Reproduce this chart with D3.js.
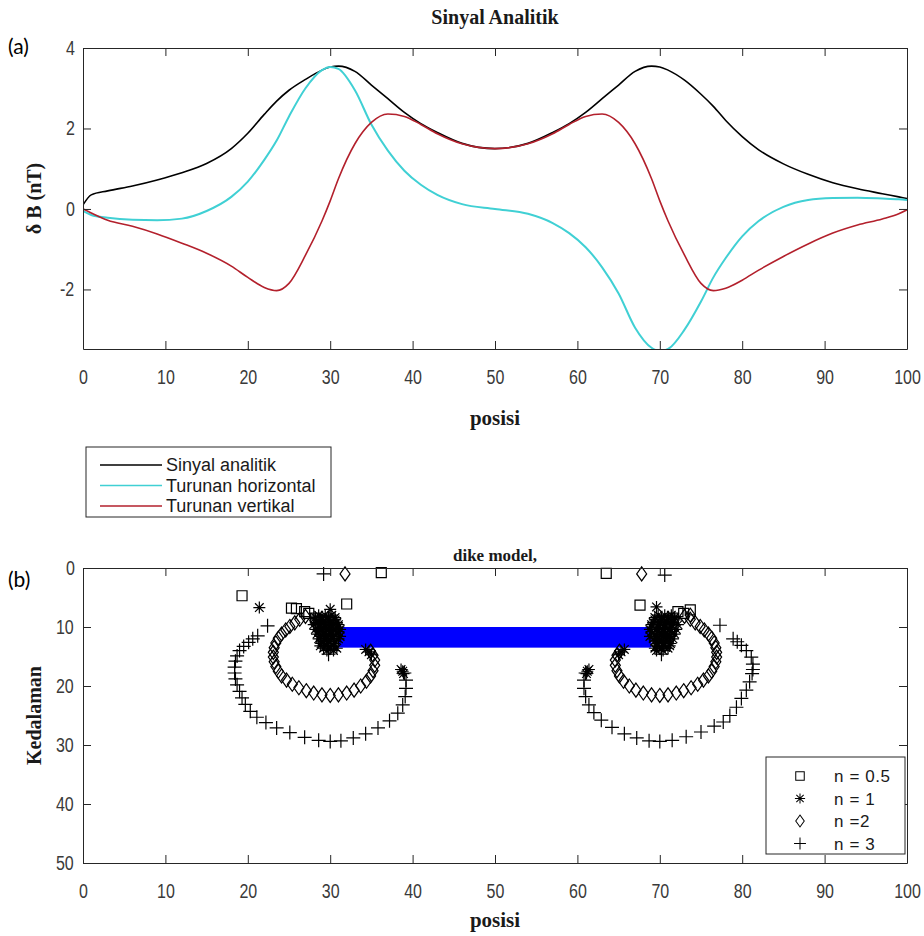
<!DOCTYPE html>
<html>
<head>
<meta charset="utf-8">
<script src="https://cdn.jsdelivr.net/npm/d3@7"></script>
<style>
  body { margin: 0; background: #fff; }
  .axis path, .axis line { stroke: #262626; }
  .axis text { fill: #3a3a3a; font-family: "Liberation Sans", Arial, sans-serif; font-size: 20px;
    transform-box: fill-box; transform-origin: center; transform: scaleX(0.8); }
  .ttl { font-family: "Liberation Serif", "Times New Roman", serif; font-weight: bold; fill: #1a1a1a; }
  .lg { font-family: "Liberation Sans", Arial, sans-serif; fill: #1a1a1a; }
  .panel { font-family: Lato, "Open Sans", sans-serif; font-size: 21px; fill: #000; }
</style>
</head>
<body>
<div id="container"></div>
<script>
/* CONSTANTS AND GLOBALS */
const width = 924,
  height = 936,
  left = 83,
  right = 907,
  topA = 48,
  bottomA = 349,
  topB = 568,
  bottomB = 863,
  tick = 8;

/* DATA - panel (a) */
const posisi = [0, 1, 3, 6, 9, 12, 15, 18, 20, 22, 23.5, 25, 27, 29, 30, 31, 33, 35, 37, 39, 41, 43, 46, 50,
  54, 57, 59, 61, 63, 65, 67, 69, 70, 71, 73, 75, 76.5, 78, 80, 82, 85, 88, 91, 94, 97, 99, 100];

const sinyalAnalitik = [0.1, 0.35, 0.45, 0.57, 0.72, 0.9, 1.13, 1.5, 1.88, 2.35, 2.68, 2.95, 3.22, 3.45, 3.53, 3.55, 3.42, 3.08, 2.74, 2.4, 2.12, 1.9, 1.63, 1.5,
  1.63, 1.9, 2.12, 2.4, 2.74, 3.08, 3.42, 3.55, 3.53, 3.45, 3.2, 2.85, 2.55, 2.2, 1.8, 1.47, 1.12, 0.86, 0.65, 0.5, 0.38, 0.3, 0.26];

const turunanHorizontal = [-0.05, -0.15, -0.22, -0.27, -0.28, -0.24, -0.05, 0.3, 0.68, 1.22, 1.7, 2.3, 3.0, 3.45, 3.53, 3.48, 2.95, 2.1, 1.45, 0.95, 0.6, 0.35, 0.12, 0.0,
  -0.12, -0.35, -0.6, -0.95, -1.45, -2.1, -2.95, -3.45, -3.53, -3.48, -3.0, -2.3, -1.7, -1.22, -0.68, -0.3, 0.05, 0.22, 0.27, 0.28, 0.26, 0.24, 0.22];

const turunanVertikal = [0.0, -0.1, -0.28, -0.43, -0.62, -0.85, -1.1, -1.42, -1.7, -1.95, -2.03, -1.85, -1.15, -0.3, 0.2, 0.75, 1.62, 2.15, 2.36, 2.3, 2.1, 1.87, 1.62, 1.5,
  1.62, 1.87, 2.1, 2.3, 2.36, 2.15, 1.62, 0.75, 0.2, -0.3, -1.15, -1.85, -2.03, -1.97, -1.77, -1.52, -1.18, -0.87, -0.6, -0.4, -0.25, -0.12, -0.02];

const legendA = ["Sinyal analitik", "Turunan horizontal", "Turunan vertikal"];
const colorsA = ["#000000", "#40d0d4", "#b3202c"];

const xTicks = [0, 10, 20, 30, 40, 50, 60, 70, 80, 90, 100];
const yTicksA = [-2, 0, 2, 4];
const yTicksB = [0, 10, 20, 30, 40, 50];

/* DATA - panel (b) : [posisi, kedalaman] */
const dikeX = [31, 69];
const dikeDepth = [10, 13.5];

const n05 = [[19.3, 4.7], [25.3, 6.8], [25.9, 6.9], [26.9, 7.4], [27.4, 7.7], [32.0, 6.1], [36.2, 0.8], [28.2, 8.5], [28.8, 9.2], [29.3, 10.0],
  [29.6, 11.0], [29.8, 12.0], [63.5, 0.9], [67.6, 6.3], [72.2, 7.4], [72.9, 7.7], [73.7, 7.1], [71.6, 8.5], [71.0, 9.3], [70.6, 10.2], [70.3, 11.2], [70.1, 12.2]];

const n1 = [[21.4, 6.7], [30.0, 7.0],
  [28.6, 8.0], [29.4, 8.0], [30.2, 8.0],
  [28.2, 8.4], [29.0, 8.4], [29.8, 8.4], [30.6, 8.4],
  [28.2, 8.8], [29.0, 8.8], [29.8, 8.8], [30.6, 8.8],
  [28.4, 9.2], [29.2, 9.2], [30.0, 9.2], [30.8, 9.2],
  [28.0, 9.6], [28.8, 9.6], [29.6, 9.6], [30.4, 9.6], [31.0, 9.6],
  [28.6, 10.0], [29.4, 10.0], [30.2, 10.0], [31.0, 10.0],
  [28.2, 10.4], [29.0, 10.4], [29.8, 10.4], [30.6, 10.4], [31.2, 10.4],
  [28.6, 10.8], [29.4, 10.8], [30.2, 10.8], [31.0, 10.8],
  [28.4, 11.2], [29.2, 11.2], [30.0, 11.2], [30.8, 11.2],
  [28.8, 11.6], [29.6, 11.6], [30.4, 11.6], [31.2, 11.6],
  [28.6, 12.0], [29.4, 12.0], [30.2, 12.0], [31.0, 12.0],
  [29.0, 12.4], [29.8, 12.4], [30.6, 12.4],
  [28.9, 12.8], [29.7, 12.8], [30.5, 12.8],
  [28.8, 13.2], [29.6, 13.2], [30.4, 13.2],
  [29.2, 13.6], [30.0, 13.6], [30.8, 13.6],
  [29.6, 14.0], [30.4, 14.0],
  [34.3, 13.8], [34.7, 14.2], [35.0, 14.7], [38.6, 17.2], [38.8, 17.5], [38.9, 17.9],
  [69.6, 6.6],
  [71.4, 8.0], [70.6, 8.0], [69.8, 8.0],
  [71.8, 8.4], [71.0, 8.4], [70.2, 8.4], [69.4, 8.4],
  [71.8, 8.8], [71.0, 8.8], [70.2, 8.8], [69.4, 8.8],
  [71.6, 9.2], [70.8, 9.2], [70.0, 9.2], [69.2, 9.2],
  [72.2, 9.6], [71.4, 9.6], [70.6, 9.6], [69.8, 9.6], [69.0, 9.6],
  [71.4, 10.0], [70.6, 10.0], [69.8, 10.0], [69.0, 10.0],
  [72.0, 10.4], [71.2, 10.4], [70.4, 10.4], [69.6, 10.4], [68.8, 10.4],
  [71.4, 10.8], [70.6, 10.8], [69.8, 10.8], [69.0, 10.8],
  [71.8, 11.2], [71.0, 11.2], [70.2, 11.2], [69.4, 11.2],
  [71.2, 11.6], [70.4, 11.6], [69.6, 11.6], [68.8, 11.6],
  [71.6, 12.0], [70.8, 12.0], [70.0, 12.0], [69.2, 12.0],
  [71.0, 12.4], [70.2, 12.4], [69.4, 12.4],
  [71.3, 12.8], [70.5, 12.8], [69.7, 12.8],
  [71.2, 13.2], [70.4, 13.2], [69.6, 13.2],
  [71.0, 13.6], [70.2, 13.6], [69.4, 13.6],
  [70.4, 14.0], [69.6, 14.0],
  [65.7, 13.8], [65.3, 14.2], [65.0, 14.7], [61.4, 17.2], [61.2, 17.5], [61.1, 17.9]];

const n2 = [[31.8, 1.0],
  [27.0, 8.2], [26.3, 8.7], [25.7, 9.3], [25.1, 9.9], [24.6, 10.5], [24.1, 11.2], [23.7, 11.9], [23.4, 12.7], [23.2, 13.5], [23.1, 14.3],
  [23.1, 15.1], [23.2, 15.9], [23.4, 16.7], [23.7, 17.5], [24.1, 18.3], [24.7, 19.0], [25.4, 19.7], [26.2, 20.3], [27.1, 20.8], [28.0, 21.2],
  [29.0, 21.5], [30.0, 21.6], [31.0, 21.5], [32.0, 21.2], [32.9, 20.7], [33.7, 20.0], [34.4, 19.2], [34.9, 18.3], [35.2, 17.4], [35.4, 16.5],
  [35.4, 15.6], [35.2, 14.8], [34.9, 14.1],
  [67.8, 1.0], [73.7, 8.0],
  [73.0, 8.2], [73.7, 8.7], [74.3, 9.3], [74.9, 9.9], [75.4, 10.5], [75.9, 11.2], [76.3, 11.9], [76.6, 12.7], [76.8, 13.5], [76.9, 14.3],
  [76.9, 15.1], [76.8, 15.9], [76.6, 16.7], [76.3, 17.5], [75.9, 18.3], [75.3, 19.0], [74.6, 19.7], [73.8, 20.3], [72.9, 20.8], [72.0, 21.2],
  [71.0, 21.5], [70.0, 21.6], [69.0, 21.5], [68.0, 21.2], [67.1, 20.7], [66.3, 20.0], [65.6, 19.2], [65.1, 18.3], [64.8, 17.4], [64.6, 16.5],
  [64.6, 15.6], [64.8, 14.8], [65.1, 14.1]];

const n3 = [[29.2, 1.0], [22.4, 9.8],
  [21.2, 11.5], [20.6, 12.0], [20.1, 12.6], [19.5, 13.3], [19.0, 14.0], [18.7, 14.9], [18.5, 15.8], [18.4, 16.8], [18.4, 17.8], [18.5, 18.8],
  [18.7, 19.8], [19.0, 20.9], [19.3, 22.0], [19.7, 23.1], [20.3, 24.3], [21.1, 25.3], [22.2, 26.2], [23.5, 27.1], [25.1, 27.9], [26.9, 28.7],
  [28.6, 29.2], [30.0, 29.4], [31.3, 29.3], [32.8, 28.8], [34.3, 28.1], [35.8, 27.1], [37.2, 25.9], [38.2, 24.6], [38.8, 23.2], [39.1, 21.8],
  [39.2, 20.4], [39.2, 19.0], [39.0, 17.8], [29.0, 9.0], [29.5, 10.2], [30.0, 11.4], [29.3, 12.5], [30.1, 13.3], [29.8, 14.6],
  [70.6, 1.2], [77.3, 9.7],
  [78.9, 12.0], [79.4, 12.5], [79.9, 13.1], [80.5, 14.0], [81.1, 15.1], [81.3, 16.3], [81.3, 17.2], [81.2, 17.9], [80.9, 19.3], [80.5, 20.7],
  [79.9, 22.1], [79.3, 23.6], [78.5, 25.0], [77.7, 26.1], [76.6, 26.8], [75.0, 27.8], [73.2, 28.6], [71.5, 29.2], [70.0, 29.4], [68.7, 29.3],
  [67.2, 28.8], [65.7, 28.1], [64.2, 27.0], [62.9, 25.8], [62.0, 24.5], [61.4, 23.2], [61.0, 21.8], [60.8, 20.4], [60.8, 19.0], [61.0, 17.8],
  [71.0, 9.0], [70.5, 10.2], [70.0, 11.4], [70.7, 12.5], [69.9, 13.3], [70.2, 14.6]];

const legendB = ["n = 0.5", "n = 1", "n =2", "n = 3"];

/* MARKER SHAPES */
const shapes = [
  "M-5,-5H5V5H-5Z",
  "M-6,0H6M0,-6V6M-4.3,-4.3L4.3,4.3M-4.3,4.3L4.3,-4.3",
  "M0,-7L5,0L0,7L-5,0Z",
  "M-7,0H7M0,-7V7"
];

const svg = d3.select("#container")
  .append("svg")
  .attr("width", width)
  .attr("height", height)
  .style("background-color", "white");

/* SCALES */
const xScale = d3.scaleLinear().domain([0, 100]).range([left, right]);
const yScaleA = d3.scaleLinear().domain([-3.48, 4]).range([bottomA, topA]);
const yScaleB = d3.scaleLinear().domain([0, 50]).range([topB, bottomB]);

function drawAxes(yScale, yTicks, y0, y1) {
  svg.append("g").attr("class", "axis")
    .attr("transform", `translate(0,${y1})`)
    .call(d3.axisBottom(xScale).tickValues(xTicks).tickSizeInner(-tick).tickSizeOuter(0).tickPadding(21).tickFormat(d => d));
  svg.append("g").attr("class", "axis")
    .attr("transform", `translate(0,${y0})`)
    .call(d3.axisTop(xScale).tickValues(xTicks).tickSizeInner(-tick).tickSizeOuter(0).tickFormat(""));
  svg.append("g").attr("class", "axis")
    .attr("transform", `translate(${left},0)`)
    .call(d3.axisLeft(yScale).tickValues(yTicks).tickSizeInner(-tick).tickSizeOuter(0).tickPadding(7).tickFormat(d => d));
  svg.append("g").attr("class", "axis")
    .attr("transform", `translate(${right},0)`)
    .call(d3.axisRight(yScale).tickValues(yTicks).tickSizeInner(-tick).tickSizeOuter(0).tickFormat(""));
}

/* PANEL (a) */
svg.append("clipPath").attr("id", "clipA")
  .append("rect").attr("x", left).attr("y", topA).attr("width", right - left).attr("height", bottomA - topA);

const seriesA = [sinyalAnalitik, turunanHorizontal, turunanVertikal];
const line = d3.line().curve(d3.curveMonotoneX);

svg.append("g").attr("clip-path", "url(#clipA)")
  .selectAll("path")
  .data(seriesA)
  .join("path")
  .attr("d", s => line(s.map((v, i) => [xScale(posisi[i]), yScaleA(v)])))
  .attr("fill", "none")
  .attr("stroke", (d, i) => colorsA[i])
  .attr("stroke-width", (d, i) => i == 1 ? 2 : 1.6);

drawAxes(yScaleA, yTicksA, topA, bottomA);

svg.append("text").attr("class", "ttl").attr("x", (left + right) / 2).attr("y", 24)
  .attr("text-anchor", "middle").style("font-size", "20px").text("Sinyal Analitik");
svg.append("text").attr("class", "ttl").attr("x", (left + right) / 2).attr("y", 425)
  .attr("text-anchor", "middle").style("font-size", "21px").text("posisi");
svg.append("text").attr("class", "ttl")
  .attr("transform", `translate(41,${(topA + bottomA) / 2}) rotate(-90)`)
  .attr("text-anchor", "middle").style("font-size", "20px").text("δ B (nT)");
svg.append("text").attr("class", "panel").attr("x", 8).attr("y", 54).text("(a)");

// legend (a)
const legA = svg.append("g").attr("transform", "translate(86,447)");
legA.append("rect").attr("width", 245).attr("height", 70).attr("fill", "white").attr("stroke", "#262626");
legA.selectAll("line").data(legendA).join("line")
  .attr("x1", 14).attr("x2", 76)
  .attr("y1", (d, i) => 18 + i * 20.5).attr("y2", (d, i) => 18 + i * 20.5)
  .attr("stroke", (d, i) => colorsA[i]).attr("stroke-width", 1.5);
legA.selectAll("text").data(legendA).join("text").attr("class", "lg")
  .style("font-size", "18px")
  .attr("x", 80).attr("y", (d, i) => 24 + i * 20.5).text(d => d);

/* PANEL (b) */
svg.append("rect")
  .attr("x", xScale(dikeX[0])).attr("y", yScaleB(dikeDepth[0]))
  .attr("width", xScale(dikeX[1]) - xScale(dikeX[0]))
  .attr("height", yScaleB(dikeDepth[1]) - yScaleB(dikeDepth[0]))
  .attr("fill", "#0000ff");

const seriesB = [n05, n1, n2, n3];
seriesB.forEach((pts, k) => {
  svg.append("g").selectAll("path")
    .data(pts)
    .join("path")
    .attr("transform", d => `translate(${xScale(d[0])},${yScaleB(d[1])})`)
    .attr("d", shapes[k])
    .attr("fill", "none")
    .attr("stroke", "#000")
    .attr("stroke-width", 1.2);
});

drawAxes(yScaleB, yTicksB, topB, bottomB);

svg.append("text").attr("class", "ttl").attr("x", (left + right) / 2).attr("y", 561)
  .attr("text-anchor", "middle").style("font-size", "17px").text("dike model,");
svg.append("text").attr("class", "ttl").attr("x", (left + right) / 2).attr("y", 927)
  .attr("text-anchor", "middle").style("font-size", "21px").text("posisi");
svg.append("text").attr("class", "ttl")
  .attr("transform", `translate(41,${(topB + bottomB) / 2}) rotate(-90)`)
  .attr("text-anchor", "middle").style("font-size", "20px").text("Kedalaman");
svg.append("text").attr("class", "panel").attr("x", 8).attr("y", 587).text("(b)");

// legend (b)
const legB = svg.append("g").attr("transform", "translate(766,757)");
legB.append("rect").attr("width", 139).attr("height", 97).attr("fill", "white").attr("stroke", "#262626");
legB.selectAll("path").data(legendB).join("path")
  .attr("transform", (d, i) => `translate(34,${19 + i * 22.5}) scale(0.85)`)
  .attr("d", (d, i) => shapes[i])
  .attr("fill", "none").attr("stroke", "#000").attr("stroke-width", 1.2);
legB.selectAll("text").data(legendB).join("text").attr("class", "lg")
  .style("font-size", "17px").style("letter-spacing", "0.6px")
  .attr("x", 68).attr("y", (d, i) => 25 + i * 22.5).text(d => d);
</script>
</body>
</html>
